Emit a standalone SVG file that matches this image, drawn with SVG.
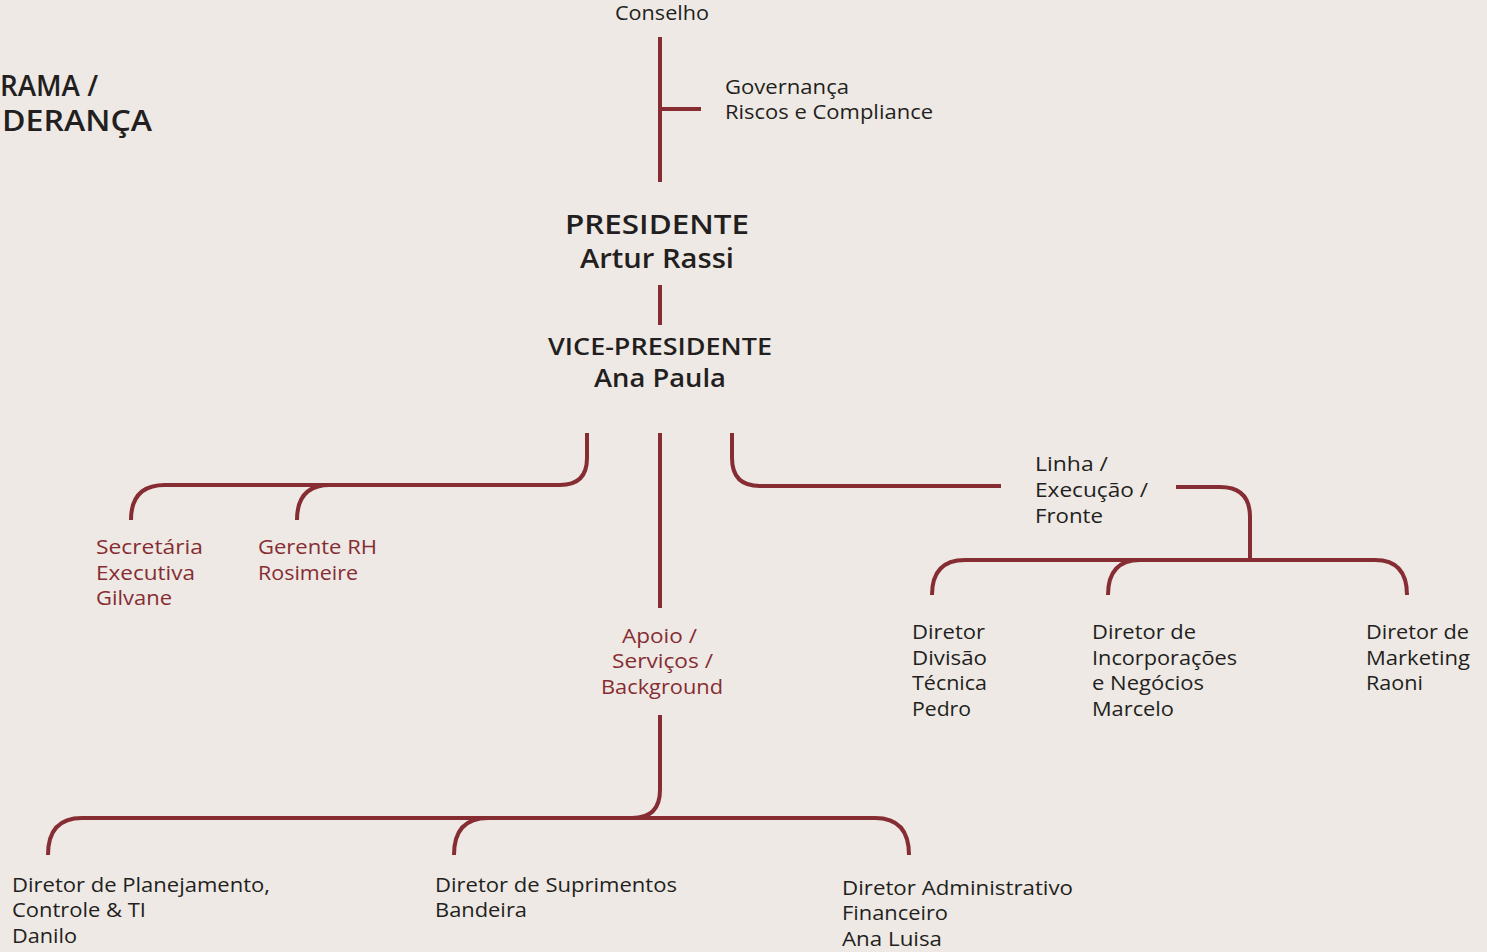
<svg xmlns="http://www.w3.org/2000/svg" width="1487" height="952" viewBox="0 0 1487 952">
<style>
.t{font-family:"Open Sans","Noto Sans","Liberation Sans",sans-serif;font-size:20.5px;fill:#231f20}
.r{fill:#862d33}
.c{fill:none;stroke:#862d33;stroke-width:4;stroke-linecap:butt}
.h1{font-family:"Open Sans","Noto Sans","Liberation Sans",sans-serif;font-weight:600;fill:#231f20}
</style>
<rect width="1487" height="952" fill="#eee9e5"/>
<g id="title">
<text class="h1" font-size="29" x="0" y="96" textLength="98" lengthAdjust="spacingAndGlyphs">RAMA /</text>
<text class="h1" font-size="29" x="2" y="131" textLength="150" lengthAdjust="spacingAndGlyphs">DERANÇA</text>
</g>
<g id="connectors">
<path class="c" d="M660 37V182M660 109H701"/>
<path class="c" d="M660 285V325"/>
<path class="c" d="M587 433V458Q587 485 560 485H165Q131 485 131 520M330 485Q297 485 297 520"/>
<path class="c" d="M660 433V608"/>
<path class="c" d="M660 715V790Q660 818 632 818H82Q48 818 48 855M488 818Q454 818 454 855M632 818H875Q909 818 909 855"/>
<path class="c" d="M732 433V458Q732 486 760 486H1001"/>
<path class="c" d="M1176 487H1220Q1250 487 1250 517V560"/>
<path class="c" d="M1250 560H965Q932 560 932 595M1140 560Q1108 560 1108 595M1250 560H1375Q1407 560 1407 595"/>
</g>
<g id="conselho"><text class="t" x="615" y="20" textLength="94" lengthAdjust="spacingAndGlyphs">Conselho</text></g>
<g id="governanca"><text class="t" x="725" y="94" textLength="124" lengthAdjust="spacingAndGlyphs">Governança</text><text class="t" x="725" y="119" textLength="208" lengthAdjust="spacingAndGlyphs">Riscos e Compliance</text></g>
<g id="presidente">
<text class="h1" font-size="27" font-weight="500" x="565" y="234" textLength="184" lengthAdjust="spacingAndGlyphs">PRESIDENTE</text>
<text class="h1" font-size="27" font-weight="500" x="580" y="268" textLength="154" lengthAdjust="spacingAndGlyphs">Artur Rassi</text>
</g>
<g id="vice">
<text class="h1" font-size="23" font-weight="700" x="548" y="355" textLength="224" lengthAdjust="spacingAndGlyphs">VICE-PRESIDENTE</text>
<text class="h1" font-size="25" font-weight="500" x="594" y="387" textLength="132" lengthAdjust="spacingAndGlyphs">Ana Paula</text>
</g>
<g id="secretaria"><text class="t r" x="96" y="554" textLength="107" lengthAdjust="spacingAndGlyphs">Secretária</text><text class="t r" x="96" y="580" textLength="99" lengthAdjust="spacingAndGlyphs">Executiva</text><text class="t r" x="96" y="605" textLength="76" lengthAdjust="spacingAndGlyphs">Gilvane</text></g>
<g id="rh"><text class="t r" x="258" y="554" textLength="119" lengthAdjust="spacingAndGlyphs">Gerente RH</text><text class="t r" x="258" y="580" textLength="100" lengthAdjust="spacingAndGlyphs">Rosimeire</text></g>
<g id="apoio"><text class="t r" x="622" y="643" textLength="75" lengthAdjust="spacingAndGlyphs">Apoio /</text><text class="t r" x="612" y="668" textLength="101" lengthAdjust="spacingAndGlyphs">Serviços /</text><text class="t r" x="601" y="694" textLength="122" lengthAdjust="spacingAndGlyphs">Background</text></g>
<g id="linha"><text class="t" x="1035" y="471" textLength="73" lengthAdjust="spacingAndGlyphs">Linha /</text><text class="t" x="1035" y="497" textLength="113" lengthAdjust="spacingAndGlyphs">Execução /</text><text class="t" x="1035" y="523" textLength="68" lengthAdjust="spacingAndGlyphs">Fronte</text></g>
<g id="pedro"><text class="t" x="912" y="639" textLength="73" lengthAdjust="spacingAndGlyphs">Diretor</text><text class="t" x="912" y="665" textLength="75" lengthAdjust="spacingAndGlyphs">Divisão</text><text class="t" x="912" y="690" textLength="75" lengthAdjust="spacingAndGlyphs">Técnica</text><text class="t" x="912" y="716" textLength="59" lengthAdjust="spacingAndGlyphs">Pedro</text></g>
<g id="marcelo"><text class="t" x="1092" y="639" textLength="104" lengthAdjust="spacingAndGlyphs">Diretor de</text><text class="t" x="1092" y="665" textLength="145" lengthAdjust="spacingAndGlyphs">Incorporações</text><text class="t" x="1092" y="690" textLength="112" lengthAdjust="spacingAndGlyphs">e Negócios</text><text class="t" x="1092" y="716" textLength="82" lengthAdjust="spacingAndGlyphs">Marcelo</text></g>
<g id="raoni"><text class="t" x="1366" y="639" textLength="103" lengthAdjust="spacingAndGlyphs">Diretor de</text><text class="t" x="1366" y="665" textLength="104" lengthAdjust="spacingAndGlyphs">Marketing</text><text class="t" x="1366" y="690" textLength="57" lengthAdjust="spacingAndGlyphs">Raoni</text></g>
<g id="danilo"><text class="t" x="12" y="892" textLength="258" lengthAdjust="spacingAndGlyphs">Diretor de Planejamento,</text><text class="t" x="12" y="917" textLength="134" lengthAdjust="spacingAndGlyphs">Controle &amp; TI</text><text class="t" x="12" y="943" textLength="65" lengthAdjust="spacingAndGlyphs">Danilo</text></g>
<g id="bandeira"><text class="t" x="435" y="892" textLength="242" lengthAdjust="spacingAndGlyphs">Diretor de Suprimentos</text><text class="t" x="435" y="917" textLength="92" lengthAdjust="spacingAndGlyphs">Bandeira</text></g>
<g id="analuisa"><text class="t" x="842" y="895" textLength="231" lengthAdjust="spacingAndGlyphs">Diretor Administrativo</text><text class="t" x="842" y="920" textLength="106" lengthAdjust="spacingAndGlyphs">Financeiro</text><text class="t" x="842" y="946" textLength="100" lengthAdjust="spacingAndGlyphs">Ana Luisa</text></g>
</svg>
